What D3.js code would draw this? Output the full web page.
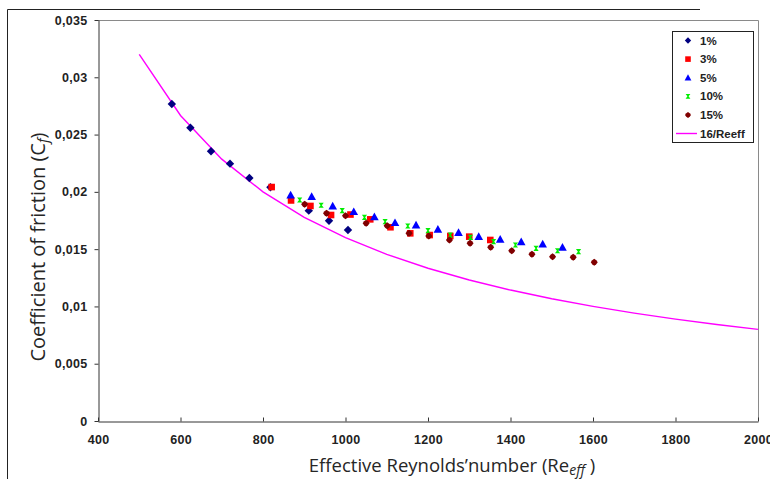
<!DOCTYPE html>
<html>
<head>
<meta charset="utf-8">
<script src="https://cdn.jsdelivr.net/npm/d3@7"></script>
<style>
  html, body { margin: 0; padding: 0; background: #fff; }
  svg { display: block; }
</style>
</head>
<body>
<svg id="chart" width="770" height="479"></svg>
<script>
// Friction coefficient vs effective Reynolds number, five concentrations + laminar 16/Re line
const xTicks = [400, 600, 800, 1000, 1200, 1400, 1600, 1800, 2000];
const yTicks = [0, 0.005, 0.01, 0.015, 0.02, 0.025, 0.03, 0.035];

const re1 = [579, 624, 674, 720, 767, 818, 911, 960, 1006];
const cf1 = [0.02767, 0.0256, 0.02354, 0.02246, 0.02121, 0.0204, 0.01836, 0.01748, 0.01667];

const re3 = [821, 868, 915, 965, 1012, 1060, 1109, 1157, 1204, 1254, 1300, 1351];
const cf3 = [0.02042, 0.01925, 0.01877, 0.01798, 0.01802, 0.0176, 0.01691, 0.01638, 0.01623, 0.01615, 0.01609, 0.0158];

const re5 = [867, 918, 969, 1020, 1070, 1120, 1171, 1224, 1274, 1323, 1375, 1426, 1478, 1526];
const cf5 = [0.01973, 0.01958, 0.01877, 0.01827, 0.01783, 0.01731, 0.01711, 0.01673, 0.01644, 0.01609, 0.01586, 0.01565, 0.01545, 0.01516];

const re10 = [889, 941, 992, 1046, 1096, 1151, 1200, 1254, 1303, 1359, 1412, 1462, 1514, 1565];
const cf10 = [0.01929, 0.01883, 0.01836, 0.01778, 0.0174, 0.01702, 0.01661, 0.01623, 0.01603, 0.01565, 0.01536, 0.01507, 0.01486, 0.01478];

const re15 = [901, 954, 1000, 1050, 1101, 1154, 1202, 1252, 1302, 1352, 1403, 1452, 1502, 1552, 1603];
const cf15 = [0.01891, 0.01813, 0.01792, 0.01726, 0.01705, 0.01638, 0.01615, 0.0158, 0.01551, 0.01516, 0.01486, 0.01455, 0.01434, 0.01429, 0.01385];

// laminar reference line Cf = 16/Re_eff
const reLine = [500, 600, 700, 800, 900, 1000, 1100, 1200, 1300, 1400, 1500, 1600, 1700, 1800, 1900, 2000];
const cfLine = [0.032, 0.026667, 0.022857, 0.02, 0.017778, 0.016, 0.014545, 0.013333, 0.012308, 0.011429, 0.010667, 0.01, 0.009412, 0.008889, 0.008421, 0.008];

const seriesNames = ["1%", "3%", "5%", "10%", "15%"];
const lineName = "16/Reeff";

const svg = d3.select("#chart");
const plot = { left: 98, right: 758, top: 20, bottom: 421 };

const x = d3.scaleLinear().domain([400, 2000]).range([plot.left, plot.right]);
const y = d3.scaleLinear().domain([0, 0.035]).range([plot.bottom, plot.top]);

// marker shapes
const shapes = {
  diamond: s => `M0,${-s}L${s},0L0,${s}L${-s},0Z`,
  square: s => `M${-s},${-s}H${s}V${s}H${-s}Z`,
  triangle: s => `M0,${-s}L${s},${s * 0.8}L${-s},${s * 0.8}Z`,
  hourglass: s => `M${-s},${-s}H${s}L${s * 0.25},0L${s},${s}H${-s}L${-s * 0.25},0Z`,
  blob: s => {
    const p = [];
    for (let i = 0; i < 8; i++) {
      const a = i * Math.PI / 4;
      const r = i % 2 === 0 ? s : s * 0.82;
      p.push([r * Math.sin(a), -r * Math.cos(a)]);
    }
    return "M" + p.map(d => d.join(",")).join("L") + "Z";
  }
};

const series = [
  { name: seriesNames[0], re: re1, cf: cf1, color: "#000080", shape: "diamond", size: 4.2, lsize: 3.2 },
  { name: seriesNames[1], re: re3, cf: cf3, color: "#ff0000", shape: "square", size: 3.3, lsize: 2.8 },
  { name: seriesNames[2], re: re5, cf: cf5, color: "#0000ff", shape: "triangle", size: 4.3, lsize: 3.4 },
  { name: seriesNames[3], re: re10, cf: cf10, color: "#00ee00", shape: "hourglass", size: 2.6, lsize: 2.4 },
  { name: seriesNames[4], re: re15, cf: cf15, color: "#800000", shape: "blob", size: 3.5, lsize: 3.0 }
];

// outer chart border (left and top edges)
svg.append("path")
  .attr("d", "M7.5,479V9.5H700")
  .attr("fill", "none").attr("stroke", "#222").attr("stroke-width", 1);

// plot frame
svg.append("path")
  .attr("d", `M${plot.left},${plot.top + 0.5}H${plot.right + 0.5}V${plot.bottom}`)
  .attr("fill", "none").attr("stroke", "#8a8a8a").attr("stroke-width", 1);

// axes
const xAxis = d3.axisBottom(x).tickValues(xTicks).tickSizeInner(-4).tickSizeOuter(0).tickPadding(14)
  .tickFormat(d => d3.format("d")(d));
const yAxis = d3.axisLeft(y).tickValues(yTicks).tickSizeInner(4).tickSizeOuter(0).tickPadding(7)
  .tickFormat(d => d === 0 ? "0" : String(+d.toFixed(3)).replace(".", ","));

const gx = svg.append("g").attr("transform", `translate(0,${plot.bottom + 0.5})`).call(xAxis);
const gy = svg.append("g").attr("transform", `translate(${plot.left + 0.5},0)`).call(yAxis);

[gx, gy].forEach(g => {
  g.select(".domain").attr("stroke", "#333");
  g.selectAll(".tick line").attr("stroke", "#333");
  g.selectAll(".tick text")
    .attr("fill", "#222")
    .style("font-family", "'Liberation Sans', Arial, sans-serif")
    .style("font-size", "12.5px")
    .style("font-weight", "bold")
    .style("letter-spacing", "0.3px");
});
gx.selectAll(".tick text").attr("dy", "0.71em");

// 16/Re line
svg.append("path")
  .datum(reLine.map((r, i) => [r, cfLine[i]]))
  .attr("d", d3.line().x(d => x(d[0])).y(d => y(d[1])))
  .attr("fill", "none").attr("stroke", "#ff00ff").attr("stroke-width", 1.4);

// data markers
series.forEach(s => {
  svg.append("g").selectAll("path")
    .data(s.re.map((r, i) => [r, s.cf[i]]))
    .join("path")
    .attr("transform", d => `translate(${x(d[0])},${y(d[1])})`)
    .attr("d", shapes[s.shape](s.size))
    .attr("fill", s.color);
});

// axis titles
const titleFont = "'Open Sans', Lato, sans-serif";
const xt = svg.append("text")
  .attr("x", 452).attr("y", 472)
  .attr("text-anchor", "middle")
  .attr("fill", "#262626")
  .style("font-family", titleFont).style("font-size", "18.5px");
xt.append("tspan").text("Effective Reynolds\u2019number (Re");
xt.append("tspan").attr("dy", 3).style("font-size", "14px").style("font-style", "italic").text("eff");
xt.append("tspan").attr("dy", -3).text(" )");

const yt = svg.append("text")
  .attr("transform", "translate(45,247) rotate(-90)")
  .attr("text-anchor", "middle")
  .attr("fill", "#262626")
  .style("font-family", titleFont).style("font-size", "20px");
yt.append("tspan").text("Coefficient of friction (C");
yt.append("tspan").attr("dy", 3).style("font-size", "15px").style("font-style", "italic").text("f");
yt.append("tspan").attr("dy", -3).text(")");

// legend
const lg = svg.append("g");
lg.append("rect")
  .attr("x", 672.5).attr("y", 31.5).attr("width", 81).attr("height", 111)
  .attr("fill", "#fff").attr("stroke", "#222").attr("stroke-width", 1);

const rowY = d3.scaleLinear().domain([0, 5]).range([40.5, 133.5]);
const legendText = (i, label) => lg.append("text")
  .attr("x", 700).attr("y", rowY(i)).attr("dy", "0.35em")
  .attr("fill", "#222")
  .style("font-family", "'Liberation Sans', Arial, sans-serif")
  .style("font-size", "11.5px").style("font-weight", "bold")
  .text(label);

series.forEach((s, i) => {
  lg.append("path")
    .attr("transform", `translate(688,${rowY(i)})`)
    .attr("d", shapes[s.shape](s.lsize))
    .attr("fill", s.color);
  legendText(i, s.name);
});
lg.append("line")
  .attr("x1", 676).attr("x2", 697).attr("y1", rowY(5)).attr("y2", rowY(5))
  .attr("stroke", "#ff00ff").attr("stroke-width", 1.4);
legendText(5, lineName);
</script>
</body>
</html>
